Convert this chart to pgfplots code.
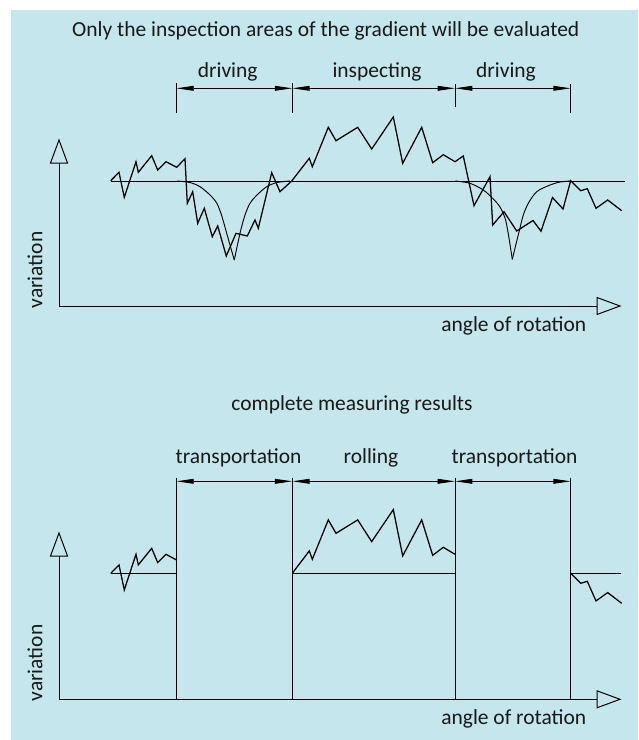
\documentclass[border=0pt]{standalone}
\usepackage{fontspec}
\setmainfont{Carlito}
\usepackage{pgfplots}
\pgfplotsset{compat=1.18}
\usetikzlibrary{arrows.meta}
\definecolor{bgblue}{RGB}{196,230,236}
\tikzset{
  lbl/.style={font=\fontsize{16.1}{19}\selectfont, inner sep=0pt, anchor=base, text=black!90},
  dim/.style={line width=0.7pt, {Triangle[length=13pt,width=3.6pt]}-{Triangle[length=13pt,width=3.6pt]}},
}
\begin{document}
\begin{tikzpicture}
% background (1 px = 0.75pt, origin bottom-left)
\fill[white] (0,0) rectangle (479.25pt,555pt);
\fill[bgblue] (8.25pt,0) rectangle (478.5pt,547.5pt);
\begin{axis}[
  width=479.25pt, height=555pt, scale only axis,
  xmin=0, xmax=639, ymin=0, ymax=740, y dir=reverse,
  hide axis, clip=false,
  every axis plot/.append style={black, mark=none},
]
% ---------------- panel 1 ----------------
\draw[line width=0.75pt] (axis cs:59,163) -- (axis cs:59,306) -- (axis cs:597,306);
\draw[line width=0.75pt, line join=miter] (axis cs:50.5,163) -- (axis cs:59,140) -- (axis cs:67.5,163) -- cycle;
\draw[line width=0.75pt, line join=miter] (axis cs:597,297.5) -- (axis cs:620,306) -- (axis cs:597,314.5) -- cycle;
\addplot[line width=0.7pt] coordinates {(111,181) (625,181)};
\addplot[line width=0.7pt, smooth, tension=0.5] coordinates {(177,181) (190,182.5) (200,186.7) (210,195) (217,203.5) (222,216.7) (226.7,233.3) (230,245) (234.3,260)};
\addplot[line width=0.7pt, smooth, tension=0.5] coordinates {(234.3,260) (240,233.3) (245,215) (250,203.3) (257,195) (266.7,186.7) (277,182.5) (290,181)};
\addplot[line width=0.7pt, smooth, tension=0.5] coordinates {(455,181) (470,183.3) (483.3,190) (493.3,199) (500,207) (505,218) (508,232) (512.3,259.3)};
\addplot[line width=0.7pt, smooth, tension=0.5] coordinates {(512.3,259.3) (517,240) (520,228) (523.3,215) (528.3,203.3) (536.7,191.7) (550,185) (560,182) (570.7,181)};
\addplot[line width=0.95pt, line join=miter] coordinates {
(110.7,180.7) (119,172.3) (124.3,197.3) (136,161.7) (138.3,172.3) (151.7,155.7)
(157.7,170) (166,161.7) (176.7,167.3) (185,158.7) (187.3,203.3) (192.7,191.7)
(197.7,223.3) (204.3,208.3) (212.3,236.7) (217.7,226) (226.3,256) (236,233.3)
(247.3,236) (255,220) (258.3,228.3) (271.7,172.7) (280,191.7) (291.7,181)
(309.3,158.3) (312.3,166.7) (328.3,127.3) (336,140.7) (357.7,127.3) (371.7,149)
(393.3,117) (402.7,163.3) (421.7,127.3) (432.7,162.7) (443.3,154.7) (455,161.7)
(463.3,156) (474,205.7) (490,176.7) (492.7,225) (504,211.7) (516.7,231)
(533,220.5) (541,231.2) (552.5,197.5) (563,209) (570.7,180.7) (580.7,190.7)
(587.3,188.7) (596,208.3) (607.7,200) (621.7,210.7)};
\draw[line width=0.7pt] (axis cs:176.4,83.3) -- (axis cs:176.4,112.7);
\draw[line width=0.7pt] (axis cs:292.3,83.3) -- (axis cs:292.3,112.7);
\draw[line width=0.7pt] (axis cs:455,84) -- (axis cs:455,106.7);
\draw[line width=0.7pt] (axis cs:570.7,84) -- (axis cs:570.7,112.7);
\draw[dim] (axis cs:176.4,88.3) -- (axis cs:292.3,88.3);
\draw[dim] (axis cs:292.3,88.3) -- (axis cs:455,88.3);
\draw[dim] (axis cs:455,88.3) -- (axis cs:570.7,88.3);
\node[lbl] at (axis cs:325.7,36) {Only the inspection areas of the gradient will be evaluated};
\node[lbl] at (axis cs:227.7,77) {driving};
\node[lbl] at (axis cs:377,77) {inspecting};
\node[lbl] at (axis cs:506,77) {driving};
\node[lbl] at (axis cs:513.8,331) {angle of rotation};
\node[lbl, rotate=90, anchor=center] at (axis cs:35,270) {variation};
% ---------------- panel 2 ----------------
\draw[line width=0.75pt] (axis cs:59,556) -- (axis cs:59,699.3) -- (axis cs:597,699.3);
\draw[line width=0.75pt, line join=miter] (axis cs:50.5,556) -- (axis cs:59,533) -- (axis cs:67.5,556) -- cycle;
\draw[line width=0.75pt, line join=miter] (axis cs:597,690.8) -- (axis cs:620,699.3) -- (axis cs:597,707.8) -- cycle;
\addplot[line width=0.7pt] coordinates {(111,573.3) (176.4,573.3)};
\addplot[line width=0.7pt] coordinates {(292.3,573.3) (455,573.3)};
\addplot[line width=0.7pt] coordinates {(570.7,573.3) (621,573.3)};
\addplot[line width=0.95pt, line join=miter] coordinates {
(110.7,573.3) (119,564.9) (124.3,589.9) (136,554.3) (138.3,564.9) (151.7,548.3)
(157.7,562.6) (166,554.3) (176.4,559.9)};
\addplot[line width=0.95pt, line join=miter] coordinates {
(292.3,573.3) (309.3,550.9) (312.3,559.3) (328.3,519.9) (336,533.3) (357.7,519.9)
(371.7,541.6) (393.3,509.6) (402.7,555.9) (421.7,519.9) (432.7,555.3) (443.3,547.3) (455,554.3)};
\addplot[line width=0.95pt, line join=miter] coordinates {
(570.7,573.3) (580.7,583.3) (587.3,581.3) (596,600.9) (607.7,592.6) (621.7,603.3)};
\draw[line width=0.7pt] (axis cs:176.4,477.7) -- (axis cs:176.4,699.3);
\draw[line width=0.7pt] (axis cs:292.3,477.7) -- (axis cs:292.3,699.3);
\draw[line width=0.7pt] (axis cs:455,477.7) -- (axis cs:455,699.3);
\draw[line width=0.7pt] (axis cs:570.7,477.7) -- (axis cs:570.7,699.3);
\draw[dim] (axis cs:176.4,481.3) -- (axis cs:292.3,481.3);
\draw[dim] (axis cs:292.3,481.3) -- (axis cs:455,481.3);
\draw[dim] (axis cs:455,481.3) -- (axis cs:570.7,481.3);
\node[lbl] at (axis cs:352,410) {complete measuring results};
\node[lbl] at (axis cs:238.5,463.5) {transportation};
\node[lbl] at (axis cs:371,463.5) {rolling};
\node[lbl] at (axis cs:514.5,463.5) {transportation};
\node[lbl] at (axis cs:513.8,724) {angle of rotation};
\node[lbl, rotate=90, anchor=center] at (axis cs:35,663) {variation};
\end{axis}
\end{tikzpicture}
\end{document}
